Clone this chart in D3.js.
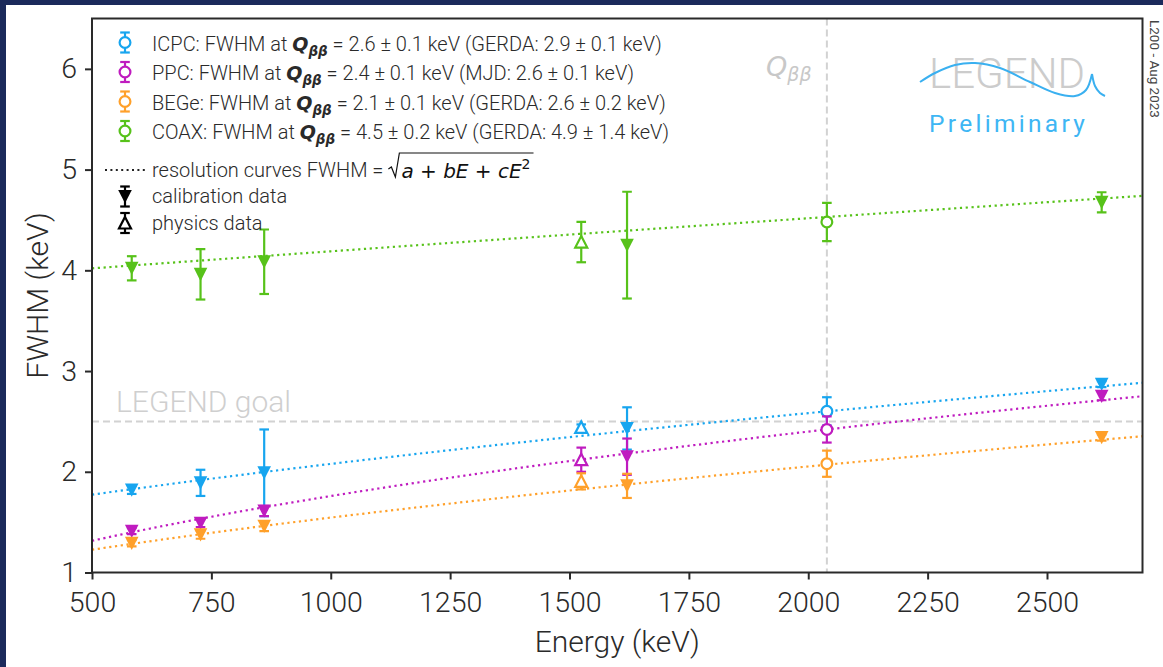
<!DOCTYPE html>
<html>
<head>
<meta charset="utf-8">
<script src="https://cdn.jsdelivr.net/npm/d3@7"></script>
<style>
  html, body { margin: 0; padding: 0; background: #ffffff; }
  svg { display: block; }
</style>
</head>
<body>
<svg id="chart" width="1163" height="667"></svg>
<script>
// Gamma lines used for the energy-resolution measurement (keV)
const lineEnergies = [583.2, 727.3, 860.6, 1524.6, 1620.5, 2039.0, 2614.5];
// calibration peaks, a physics-data peak (42K) and the interpolated value at Q_bb
const pointKinds = ["calibration", "calibration", "calibration", "physics", "calibration", "qbb", "calibration"];

const detectorNames = ["ICPC", "PPC", "BEGe", "COAX"];
const detectorColors = ["#17a5ef", "#bf1bbf", "#ffa02a", "#57c21a"];

// FWHM (keV) and uncertainties per detector type
const icpcFwhm = [1.82, 1.89, 1.99, 2.44, 2.43, 2.60, 2.87];
const icpcErr  = [0.04, 0.13, 0.43, 0.03, 0.21, 0.14, 0.03];
const ppcFwhm  = [1.41, 1.49, 1.61, 2.12, 2.15, 2.42, 2.75];
const ppcErr   = [0.03, 0.04, 0.05, 0.12, 0.18, 0.13, 0.04];
const begeFwhm = [1.29, 1.375, 1.46, 1.905, 1.86, 2.08, 2.34];
const begeErr  = [0.03, 0.04, 0.05, 0.08, 0.12, 0.13, 0.03];
const coaxFwhm = [4.02, 3.96, 4.085, 4.28, 4.25, 4.48, 4.675];
const coaxErr  = [0.12, 0.25, 0.32, 0.20, 0.53, 0.19, 0.10];

// Resolution-curve parameters, FWHM = sqrt(a + b E + c E^2)
const curveA = [1.968, 0.3416, 0.639, 14.79];
const curveB = [0.00235, 0.0027975, 0.001709, 0.002706];
const curveC = [0, -4.55e-8, 3.9e-8, 5e-8];

// Legend texts
const qbbResult = ["2.6 ± 0.1", "2.4 ± 0.1", "2.1 ± 0.1", "4.5 ± 0.2"];
const referenceResult = ["GERDA: 2.9 ± 0.1", "MJD: 2.6 ± 0.1", "GERDA: 2.6 ± 0.2", "GERDA: 4.9 ± 1.4"];

// Reference lines
const qbbEnergy = 2039;
const goalFwhm = 2.5;

// Axes
const xDomain = [500, 2700];
const yDomain = [1, 6.5];
const xTicks = [500, 750, 1000, 1250, 1500, 1750, 2000, 2250, 2500];
const yTicks = [1, 2, 3, 4, 5, 6];

const fwhmSeries = [icpcFwhm, ppcFwhm, begeFwhm, coaxFwhm];
const errSeries = [icpcErr, ppcErr, begeErr, coaxErr];

const W = 1163, H = 667;
const plot = { left: 92, right: 1142.5, top: 18.5, bottom: 572.5 };
const FONT = "Roboto, 'Open Sans', sans-serif";
const MATH = "'DejaVu Sans', sans-serif";
const INK = "#2a2a2a";

const svg = d3.select("#chart");

// page background and slide border
svg.append("rect").attr("width", W).attr("height", H).attr("fill", "#ffffff");
svg.append("rect").attr("x", 0).attr("y", 0).attr("width", W).attr("height", 5).attr("fill", "#1b2a5b");
svg.append("rect").attr("x", 0).attr("y", 0).attr("width", 6).attr("height", H).attr("fill", "#1b2a5b");

const x = d3.scaleLinear().domain(xDomain).range([plot.left, plot.right]);
const y = d3.scaleLinear().domain(yDomain).range([plot.bottom, plot.top]);

const clipId = "plot-clip";
svg.append("clipPath").attr("id", clipId)
  .append("rect")
  .attr("x", plot.left).attr("y", plot.top)
  .attr("width", plot.right - plot.left).attr("height", plot.bottom - plot.top);

const inner = svg.append("g").attr("clip-path", `url(#${clipId})`);

// Q_bb marker line and LEGEND design goal
inner.append("line")
  .attr("x1", x(qbbEnergy)).attr("x2", x(qbbEnergy))
  .attr("y1", plot.top).attr("y2", plot.bottom)
  .attr("stroke", "#d2d2d2").attr("stroke-width", 2).attr("stroke-dasharray", "7,4");
inner.append("line")
  .attr("x1", plot.left).attr("x2", plot.right)
  .attr("y1", y(goalFwhm)).attr("y2", y(goalFwhm))
  .attr("stroke", "#d2d2d2").attr("stroke-width", 2).attr("stroke-dasharray", "7,4");

svg.append("text")
  .attr("x", 116).attr("y", y(goalFwhm) - 9)
  .attr("font-family", FONT).attr("font-weight", 300).attr("font-size", 30)
  .attr("fill", "#cfcfcf")
  .text("LEGEND goal");

const qLabel = svg.append("text")
  .attr("x", 766).attr("y", 76)
  .attr("font-family", MATH).attr("font-style", "italic")
  .attr("font-size", 27).attr("fill", "#c8c8c8");
qLabel.append("tspan").text("Q");
qLabel.append("tspan").attr("font-size", 19).attr("dy", 5).text("ββ");

// resolution curves
const curveEnergies = d3.range(xDomain[0], xDomain[1] + 1, 20);
const curveLine = d3.line().x(d => x(d[0])).y(d => y(d[1]));
detectorNames.forEach((name, i) => {
  const pts = curveEnergies.map(E => [E, Math.sqrt(curveA[i] + curveB[i] * E + curveC[i] * E * E)]);
  inner.append("path")
    .attr("d", curveLine(pts))
    .attr("fill", "none")
    .attr("stroke", detectorColors[i])
    .attr("stroke-width", 2.2)
    .attr("stroke-dasharray", "2.2,3.6");
});

// marker shapes
const triDown = "M-6.8,-6.5L6.8,-6.5L0,6.8Z";
const triUp = "M0,-6L6,5.5L-6,5.5Z";

function drawPoint(g, cx, cy, yLo, yHi, kind, color) {
  const cap = 4.8;
  g.append("line").attr("x1", cx).attr("x2", cx).attr("y1", yLo).attr("y2", yHi)
    .attr("stroke", color).attr("stroke-width", 2.2);
  [yLo, yHi].forEach(yy => {
    g.append("line").attr("x1", cx - cap).attr("x2", cx + cap).attr("y1", yy).attr("y2", yy)
      .attr("stroke", color).attr("stroke-width", 2.2);
  });
  if (kind === "calibration") {
    g.append("path").attr("d", triDown).attr("transform", `translate(${cx},${cy})`)
      .attr("fill", color);
  } else if (kind === "physics") {
    g.append("path").attr("d", triUp).attr("transform", `translate(${cx},${cy})`)
      .attr("fill", "#ffffff").attr("stroke", color).attr("stroke-width", 2.2);
  } else {
    g.append("circle").attr("cx", cx).attr("cy", cy).attr("r", 5.4)
      .attr("fill", "#ffffff").attr("stroke", color).attr("stroke-width", 2.2);
  }
}

const pointsG = inner.append("g");
detectorNames.forEach((name, i) => {
  const vals = fwhmSeries[i], errs = errSeries[i];
  lineEnergies.forEach((E, j) => {
    drawPoint(pointsG, x(E), y(vals[j]), y(vals[j] - errs[j]), y(vals[j] + errs[j]),
      pointKinds[j], detectorColors[i]);
  });
});

// axes
function styleAxis(g) {
  g.select(".domain").remove();
  g.selectAll(".tick line").attr("stroke", INK).attr("stroke-width", 2);
  g.selectAll(".tick text")
    .attr("font-family", FONT).attr("font-weight", 300)
    .attr("font-size", 28.5).attr("fill", INK);
}
svg.append("g")
  .attr("transform", `translate(0,${plot.bottom})`)
  .call(d3.axisBottom(x).tickValues(xTicks).tickFormat(d3.format("d")).tickSize(7).tickPadding(12))
  .call(styleAxis);
svg.append("g")
  .attr("transform", `translate(${plot.left},0)`)
  .call(d3.axisLeft(y).tickValues(yTicks).tickFormat(d3.format("d")).tickSize(7).tickPadding(8))
  .call(styleAxis);

// plot frame
svg.append("rect")
  .attr("x", plot.left).attr("y", plot.top)
  .attr("width", plot.right - plot.left).attr("height", plot.bottom - plot.top)
  .attr("fill", "none").attr("stroke", INK).attr("stroke-width", 2);

// axis titles
svg.append("text")
  .attr("x", (plot.left + plot.right) / 2).attr("y", 652)
  .attr("text-anchor", "middle")
  .attr("font-family", FONT).attr("font-weight", 300).attr("font-size", 30).attr("fill", INK)
  .text("Energy (keV)");
svg.append("text")
  .attr("transform", `translate(48,${(plot.top + plot.bottom) / 2}) rotate(-90)`)
  .attr("text-anchor", "middle")
  .attr("font-family", FONT).attr("font-weight", 300).attr("font-size", 30).attr("fill", INK)
  .text("FWHM (keV)");

// legend
const legend = svg.append("g");
const handleX = 125, textX = 152;
const detRows = [50.5, 80, 109.5, 139];
detectorNames.forEach((name, i) => {
  const base = detRows[i];
  const cy = base - 8;
  drawPoint(legend, handleX, cy, cy + 10, cy - 10, "qbb", detectorColors[i]);
  const t = legend.append("text").attr("x", textX).attr("y", base)
    .attr("font-family", FONT).attr("font-weight", 300).attr("font-size", 20).attr("fill", INK);
  t.append("tspan").text(`${name}: FWHM at `);
  t.append("tspan").attr("font-family", MATH).attr("font-weight", "bold").attr("font-style", "italic")
    .attr("font-size", 19).text("Q");
  t.append("tspan").attr("font-family", MATH).attr("font-weight", "bold").attr("font-style", "italic")
    .attr("font-size", 13.5).attr("dy", 5).text("ββ");
  t.append("tspan").attr("dy", -5).text(` = ${qbbResult[i]} keV (${referenceResult[i]} keV)`);
});

// resolution-curve entry
legend.append("line")
  .attr("x1", 105).attr("x2", 145).attr("y1", 170).attr("y2", 170)
  .attr("stroke", "#222").attr("stroke-width", 2).attr("stroke-dasharray", "2,3.4");
const resText = legend.append("text").attr("x", textX).attr("y", 177)
  .attr("font-family", FONT).attr("font-weight", 300).attr("font-size", 20).attr("fill", INK)
  .text("resolution curves FWHM = ");
const rx = textX + resText.node().getComputedTextLength() + 5;
const formula = legend.append("text").attr("x", rx + 13).attr("y", 178)
  .attr("font-family", MATH).attr("font-style", "italic").attr("font-size", 20).attr("fill", "#111");
formula.append("tspan").text("a");
formula.append("tspan").attr("font-style", "normal").text(" + ");
formula.append("tspan").text("bE");
formula.append("tspan").attr("font-style", "normal").text(" + ");
formula.append("tspan").text("cE");
formula.append("tspan").attr("font-style", "normal").attr("font-size", 14).attr("dy", -9).text("2");
const fEnd = rx + 13 + formula.node().getComputedTextLength() + 3;
legend.append("path")
  .attr("d", `M${rx},${169}L${rx + 3},${167}L${rx + 7},${177}L${rx + 11},${153}L${fEnd},${153}`)
  .attr("fill", "none").attr("stroke", "#111").attr("stroke-width", 1.2);

// data-type entries
drawPoint(legend, handleX, 196.5, 206.5, 186.5, "calibration", "#000");
legend.append("text").attr("x", textX).attr("y", 203)
  .attr("font-family", FONT).attr("font-weight", 300).attr("font-size", 20).attr("fill", INK)
  .text("calibration data");
drawPoint(legend, handleX, 223, 233, 213, "physics", "#000");
legend.append("text").attr("x", textX).attr("y", 229.5)
  .attr("font-family", FONT).attr("font-weight", 300).attr("font-size", 20).attr("fill", INK)
  .text("physics data");

// collaboration logo
const logo = svg.append("g");
logo.append("text").attr("x", 929).attr("y", 88)
  .attr("font-family", FONT).attr("font-weight", 300).attr("font-size", 42)
  .attr("fill", "#cccccc").text("LEGEND");
const wave = [[920, 82], [935, 73], [955, 65], [975, 63], [1000, 68], [1030, 82], [1055, 93], [1075, 96], [1086, 90], [1092, 74]];
logo.append("path")
  .attr("d", d3.line().curve(d3.curveCatmullRom)(wave))
  .attr("fill", "none").attr("stroke", "#3ab0f0").attr("stroke-width", 2);
logo.append("path")
  .attr("d", d3.line().curve(d3.curveCatmullRom)([[1092, 74], [1095, 86], [1100, 93], [1105, 96]]))
  .attr("fill", "none").attr("stroke", "#3ab0f0").attr("stroke-width", 2);
logo.append("text").attr("x", 929).attr("y", 132)
  .attr("font-family", FONT).attr("font-weight", 400).attr("font-size", 24.5)
  .attr("letter-spacing", 3.3).attr("fill", "#3eb6f4").text("Preliminary");

// release stamp
svg.append("text")
  .attr("transform", "translate(1150,20) rotate(90)")
  .attr("font-family", FONT).attr("font-weight", 400).attr("font-size", 13.5)
  .attr("fill", "#444").text("L200 - Aug 2023");
</script>
</body>
</html>
